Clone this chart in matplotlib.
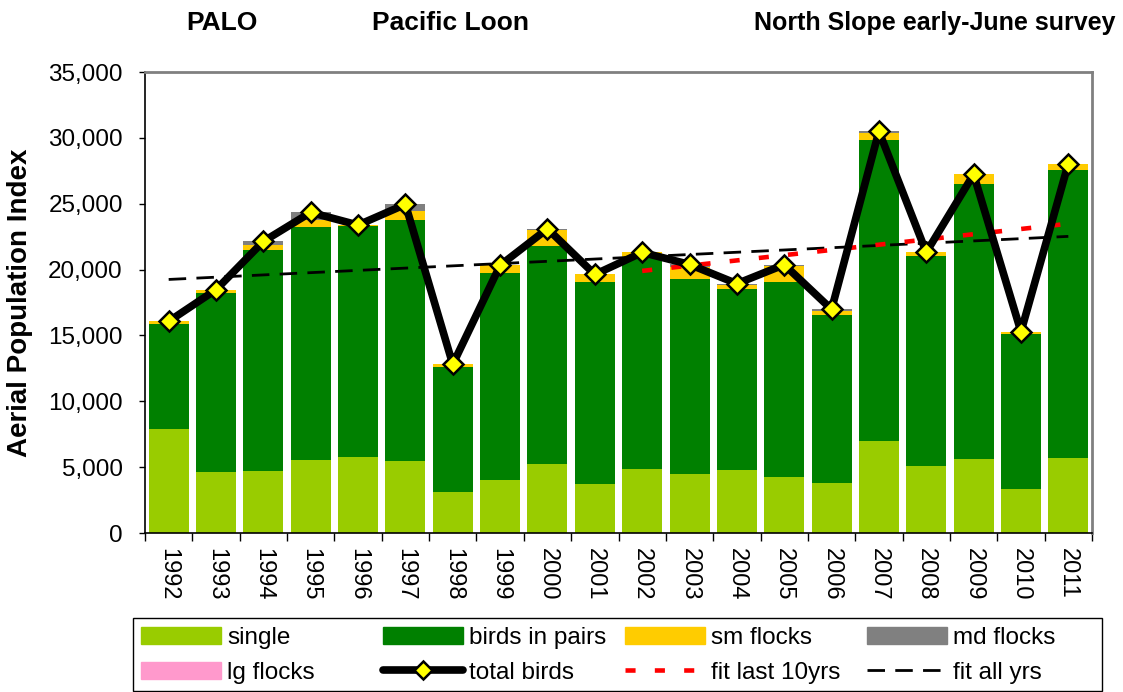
import matplotlib
matplotlib.use('Agg')
import matplotlib.pyplot as plt
import numpy as np
from matplotlib.ticker import FuncFormatter, MultipleLocator
from matplotlib.patches import Patch, Rectangle
from matplotlib.lines import Line2D

plt.rcParams['font.family'] = ['Liberation Sans', 'DejaVu Sans']

years = ['1992', '1993', '1994', '1995', '1996', '1997', '1998', '1999', '2000', '2001',
         '2002', '2003', '2004', '2005', '2006', '2007', '2008', '2009', '2010', '2011']
single = [7870, 4600, 4680, 5520, 5740, 5440, 3090, 4000, 5210, 3690,
          4830, 4450, 4760, 4250, 3800, 6980, 5090, 5620, 3320, 5690]
pairs = [7995, 13590, 16780, 17710, 17560, 18300, 9490, 15740, 16550, 15360,
         16120, 14800, 13740, 14800, 12720, 22830, 15940, 20880, 11760, 21840]
sm_flocks = [200, 280, 380, 530, 75, 680, 230, 580, 1210, 580,
             350, 940, 300, 1190, 330, 560, 280, 730, 200, 510]
md_flocks = [0, 0, 300, 580, 0, 530, 0, 0, 130, 0,
             0, 200, 130, 130, 130, 130, 0, 0, 0, 0]
lg_flocks = [0] * 20
total = [16070, 18470, 22140, 24340, 23380, 24950, 12800, 20320, 23100, 19630,
         21300, 20390, 18930, 20370, 16980, 30500, 21310, 27230, 15280, 28040]
fit_all_x = ['1992', '2011']
fit_all_y = [19250, 22520]
fit_last10_x = ['2002', '2011']
fit_last10_y = [19900, 23480]

c_single, c_pairs, c_sm, c_md, c_lg = '#99CC00', '#008000', '#FFCC00', '#808080', '#FF99CC'
W, H = 1123, 692

fig = plt.figure(figsize=(W / 100, H / 100), dpi=100)
ax = fig.add_axes([145 / W, 1 - 533 / H, 947 / W, 461 / H])

x = np.arange(len(years))
w = 0.845
bottom = np.zeros(len(years))
for vals, col in [(single, c_single), (pairs, c_pairs), (sm_flocks, c_sm),
                  (md_flocks, c_md), (lg_flocks, c_lg)]:
    ax.bar(x, vals, w, bottom=bottom, color=col, linewidth=0, zorder=2)
    bottom += np.array(vals)

idx = {y: i for i, y in enumerate(years)}
fit_all_style = dict(color='black', lw=2, dashes=(6.3, 3.7))
fit10_style = dict(color='red', lw=3.3, dashes=(2.2, 4.2))
tot_style = dict(color='black', lw=5.5, marker='D', markerfacecolor='#FFFF00',
                 markeredgecolor='black', markeredgewidth=1.8, solid_capstyle='round')
ax.plot([idx[y] for y in fit_all_x], fit_all_y, zorder=3, **fit_all_style)
ax.plot([idx[y] for y in fit_last10_x], fit_last10_y, zorder=3, **fit10_style)
ax.plot(x, total, markersize=10, zorder=4, **tot_style)

ax.set_xlim(-0.5, len(years) - 0.5)
ax.set_ylim(0, 35000)
ax.yaxis.set_major_locator(MultipleLocator(5000))
ax.yaxis.set_major_formatter(FuncFormatter(lambda v, p: f'{int(v):,}'))
ax.set_xticks(x)
ax.set_xticklabels(years, rotation=-90, fontsize=17)
ax.set_xticks(np.arange(-0.5, len(years)), minor=True)
ax.tick_params(axis='x', which='major', length=0, pad=11)
ax.tick_params(axis='x', which='minor', length=6, width=1, direction='out')
ax.tick_params(axis='y', labelsize=17.5, length=4, width=1, direction='out', pad=12)
for s in ['top', 'right']:
    ax.spines[s].set_color('#808080')
    ax.spines[s].set_linewidth(2)
for s in ['left', 'bottom']:
    ax.spines[s].set_color('black')
    ax.spines[s].set_linewidth(1.2)
ax.set_ylabel('Aerial Population Index', fontsize=20, fontweight='bold', labelpad=11)

fig.text(222 / W, 1 - 30 / H, 'PALO', ha='center', va='baseline', fontsize=19, fontweight='bold')
fig.text(451 / W, 1 - 30 / H, 'Pacific Loon', ha='center', va='baseline', fontsize=19, fontweight='bold')
fig.text(1115 / W, 1 - 30 / H, 'North Slope early-June survey', ha='right', va='baseline',
         fontsize=18, fontweight='bold')

# legend: 4 fixed columns like the Excel one, inside a single frame
fig.patches.append(Rectangle((133 / W, 1 - 691 / H), 969 / W, 73 / H, transform=fig.transFigure,
                             fill=False, edgecolor='black', linewidth=1))
columns = [
    [Patch(color=c_single, label='single'), Patch(color=c_lg, label='lg flocks')],
    [Patch(color=c_pairs, label='birds in pairs'),
     Line2D([], [], markersize=9, label='total birds', **tot_style)],
    [Patch(color=c_sm, label='sm flocks'), Line2D([], [], label='fit last 10yrs', **fit10_style)],
    [Patch(color=c_md, label='md flocks'), Line2D([], [], label='fit all yrs', **fit_all_style)],
]
col_x = [141, 383, 625, 867]
for cx, hs in zip(col_x, columns):
    lg = fig.legend(handles=hs, loc='center left', bbox_to_anchor=(cx / W, 1 - 655.5 / H),
                    frameon=False, fontsize=17.5, handlelength=3.3, handletextpad=0.25,
                    borderpad=0, borderaxespad=0, labelspacing=0.5)

fig.savefig('out.png', dpi=100)
